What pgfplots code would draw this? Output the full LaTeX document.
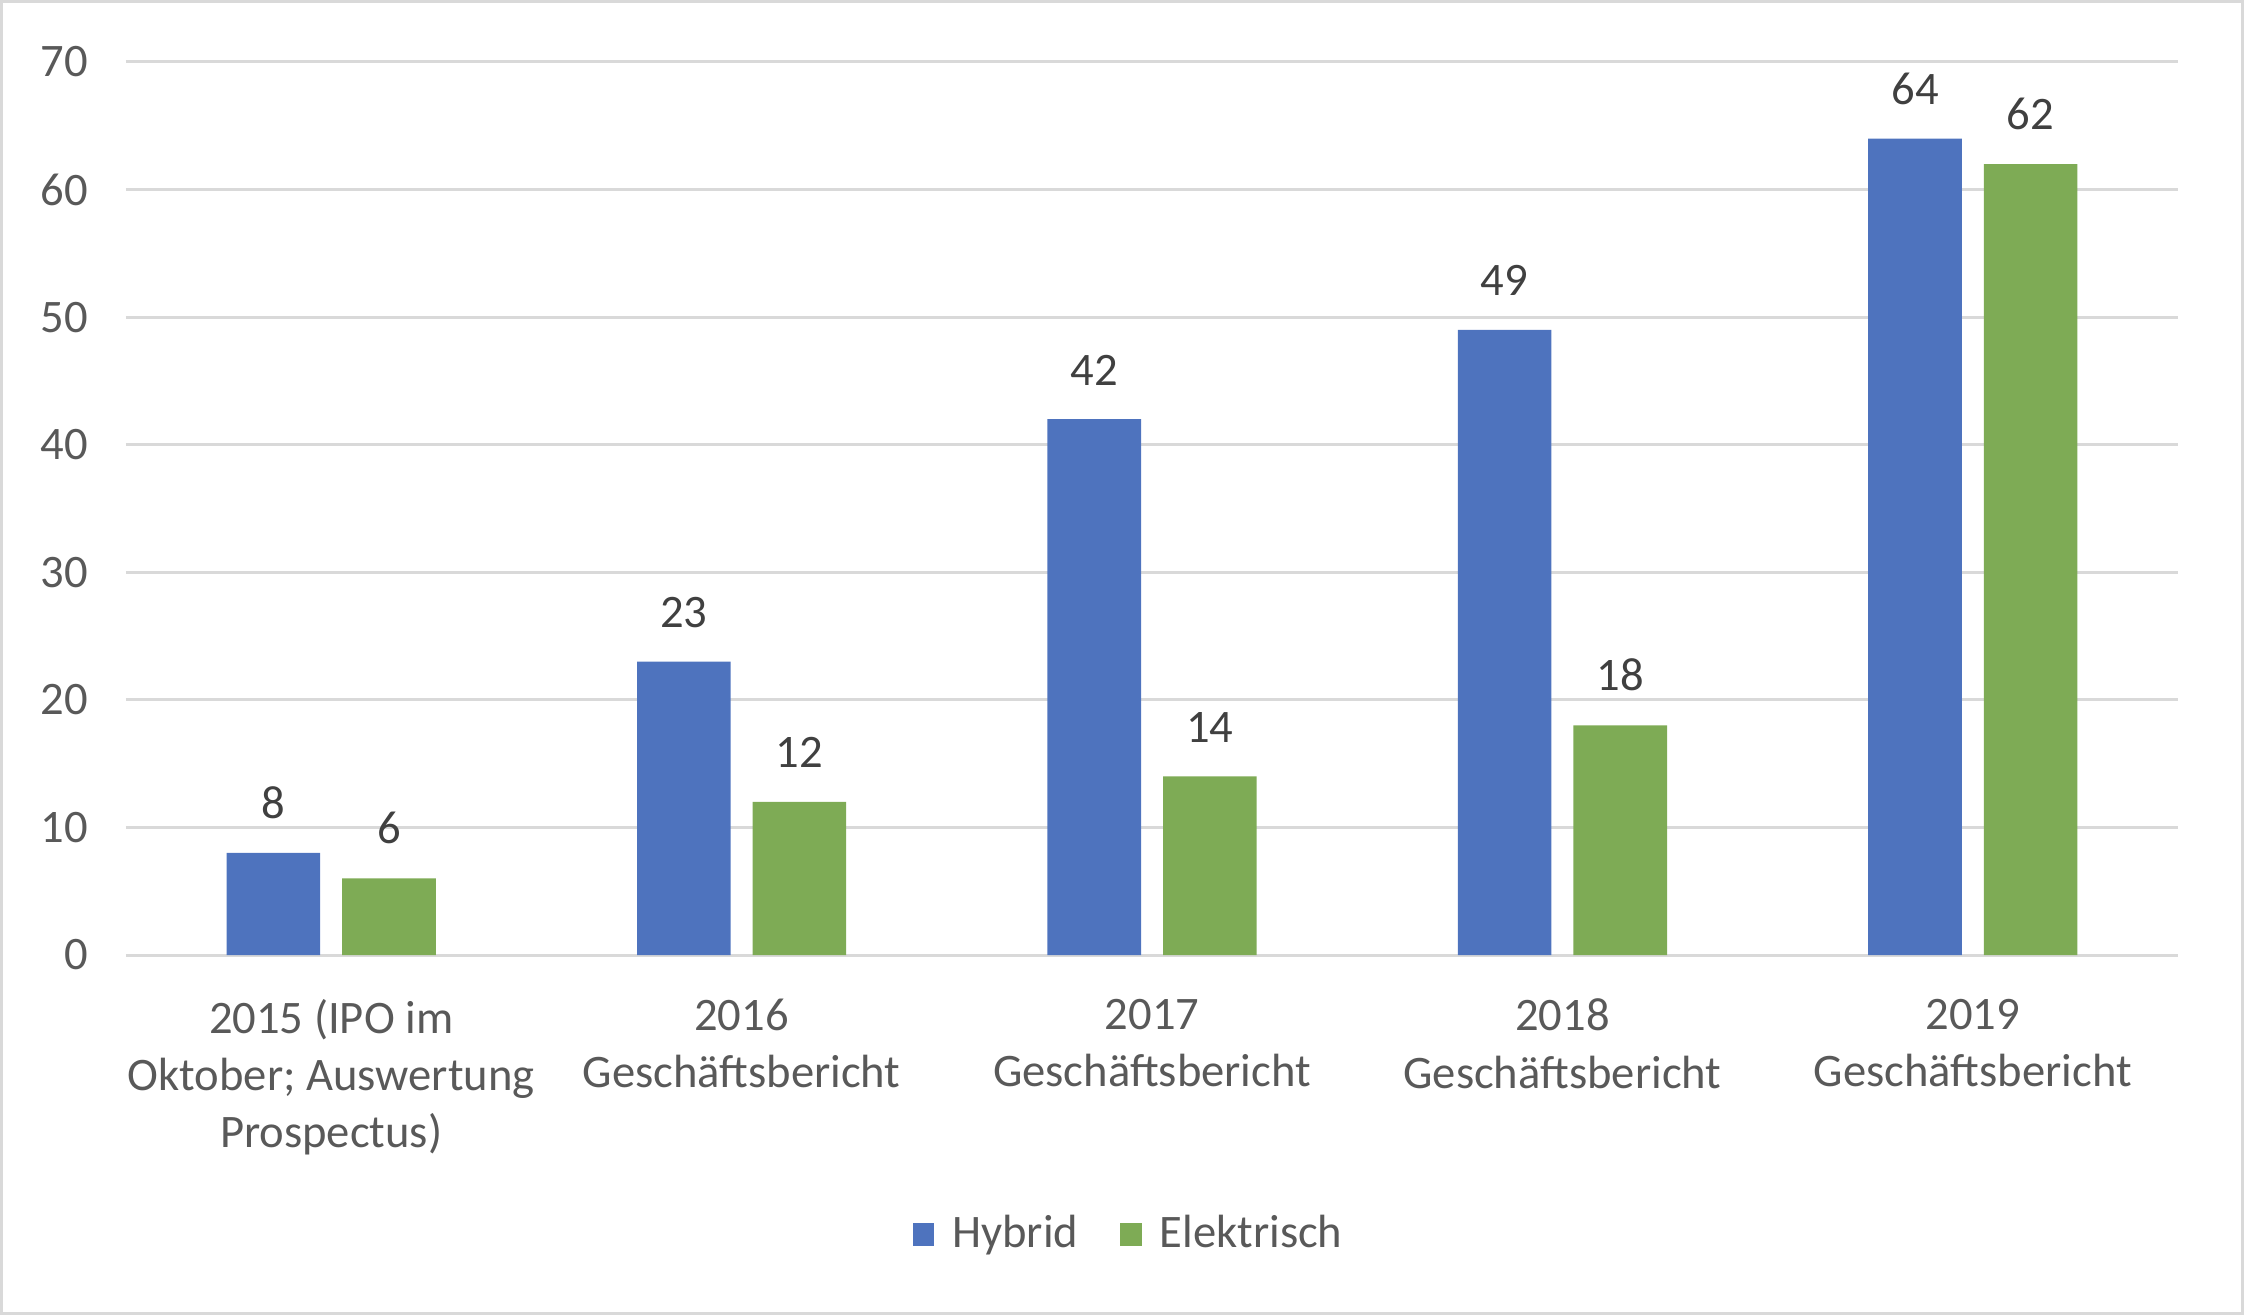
\documentclass[border=0pt]{standalone}
\usepackage{pgfplots}
\pgfplotsset{compat=1.18}
\usepackage{fontspec}
\setmainfont{Carlito}
\definecolor{hyb}{HTML}{4E73BE}
\definecolor{ele}{HTML}{7EAB55}
\definecolor{gridc}{HTML}{D9D9D9}
\definecolor{txt}{HTML}{595959}
\definecolor{lbl}{HTML}{404040}
\begin{document}
\begin{tikzpicture}
\useasboundingbox (-31.5pt,-90pt) rectangle (529.5pt,238.75pt);
\draw[gridc, line width=0.75pt] (-31pt,-89.5pt) rectangle (529pt,238.25pt);
\begin{axis}[
  at={(0,0)}, anchor=south west,
  scale only axis,
  width=513pt, height=223.25pt,
  ybar=5.5pt, bar width=23.4pt,
  xmin=-0.5, xmax=4.5,
  ymin=0, ymax=70,
  ytick={0,10,...,70},
  xtick=data,
  xticklabels={{2015 (IPO im\\Oktober; Auswertung\\Prospectus)},{2016\\Geschäftsbericht},{2017\\Geschäftsbericht},{2018\\Geschäftsbericht},{2019\\Geschäftsbericht}},
  xticklabel style={align=center, font=\fontsize{11.65}{14.3}\selectfont, text=txt, yshift=-7.5pt},
  yticklabel style={font=\fontsize{11.65}{13}\selectfont, text=txt, xshift=-6pt},
  /pgf/number format/assume math mode=true,
  major tick length=0pt,
  axis line style={draw=none},
  ymajorgrids, grid style={gridc, line width=0.75pt},
  nodes near coords,
  nodes near coords style={font=\fontsize{11.65}{13}\selectfont, text=lbl, anchor=south, yshift=5pt},
  legend style={at={(0.490,-0.313)}, anchor=center, draw=none, legend columns=-1,
    font=\fontsize{11.65}{13}\selectfont, text=txt,
    /tikz/every odd column/.append style={column sep=2.5pt},
    /tikz/every even column/.append style={column sep=8.5pt}},
  legend image code/.code={\fill[#1, draw=none] (0pt,-2.9pt) rectangle (5.4pt,2.9pt);},
]
\addplot[fill=hyb, draw=none] coordinates {(0,8) (1,23) (2,42) (3,49) (4,64)};
\addplot[fill=ele, draw=none] coordinates {(0,6) (1,12) (2,14) (3,18) (4,62)};
\legend{Hybrid,Elektrisch}
\end{axis}
\end{tikzpicture}
\end{document}
